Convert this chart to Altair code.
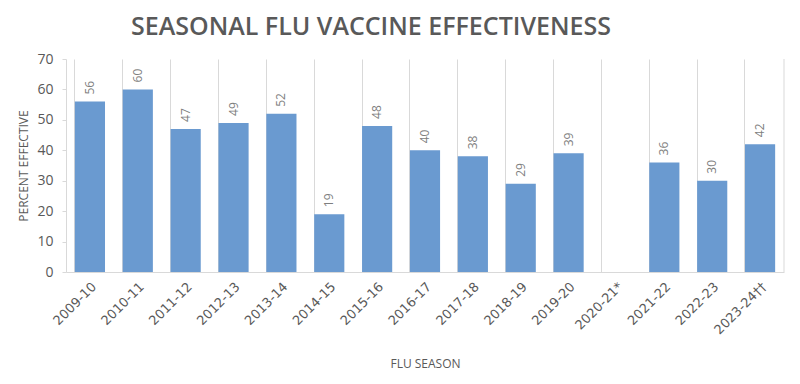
import altair as alt
import pandas as pd

seasons = ["2009-10", "2010-11", "2011-12", "2012-13", "2013-14", "2014-15", "2015-16",
           "2016-17", "2017-18", "2018-19", "2019-20", "2020-21*", "2021-22", "2022-23", "2023-24††"]
effectiveness = [56, 60, 47, 49, 52, 19, 48, 40, 38, 29, 39, None, 36, 30, 42]
y_ticks = [0, 10, 20, 30, 40, 50, 60, 70]

df = pd.DataFrame({"season": seasons, "value": effectiveness})

W, H = 718, 213
FONT = "Open Sans"

x_enc = alt.X("season:N", sort=seasons, title="FLU SEASON",
              scale=alt.Scale(paddingInner=0.37, paddingOuter=0.185),
              axis=alt.Axis(labelAngle=-45, labelFontSize=13, labelColor="#595959",
                            labelFont="DejaVu Sans", titleFont=FONT, titleFontSize=12,
                            titleColor="#595959", titleFontWeight="normal",
                            titlePadding=22, grid=True, bandPosition=0,
                            gridColor="#d9d9d9", ticks=False, domainColor="#d9d9d9",
                            labelPadding=8))

y_enc = alt.Y("value:Q", title="PERCENT EFFECTIVE",
              scale=alt.Scale(domain=[0, 70], nice=False),
              axis=alt.Axis(values=y_ticks, tickCount=8, grid=False,
                            labelOverlap=False, labelBound=False,
                            labelFontSize=14, labelColor="#595959", labelFont=FONT,
                            titleFont=FONT, titleFontSize=12, titleColor="#595959",
                            titleFontWeight="normal", domainColor="#d9d9d9",
                            tickColor="#d9d9d9", tickSize=4, labelPadding=9,
                            titlePadding=6))

base = alt.Chart(df).encode(x=x_enc, y=y_enc)

bars = base.mark_bar(color="#6a9ad0")

labels = base.mark_text(angle=270, align="left", baseline="middle", dx=7,
                        fontSize=12, color="#7f7f7f", font=FONT).encode(
    text=alt.Text("value:Q"))

right_edge = alt.Chart(pd.DataFrame({"a": [0]})).mark_rule(color="#d9d9d9").encode(
    x=alt.value(W), y=alt.value(0), y2=alt.value(H))

chart = alt.layer(bars, labels, right_edge).properties(
    width=W, height=H,
    title=alt.TitleParams("SEASONAL FLU VACCINE EFFECTIVENESS", fontSize=25,
                          font=FONT, fontWeight=600, color="#595959",
                          anchor="start", frame="group", dx=65, offset=12),
    autosize=alt.AutoSizeParams(type="none"),
    padding={"left": 58, "top": 51, "right": 8, "bottom": 104},
).configure_view(stroke=None)

chart.save("out.html", embed_options={"renderer": "svg", "actions": False})
